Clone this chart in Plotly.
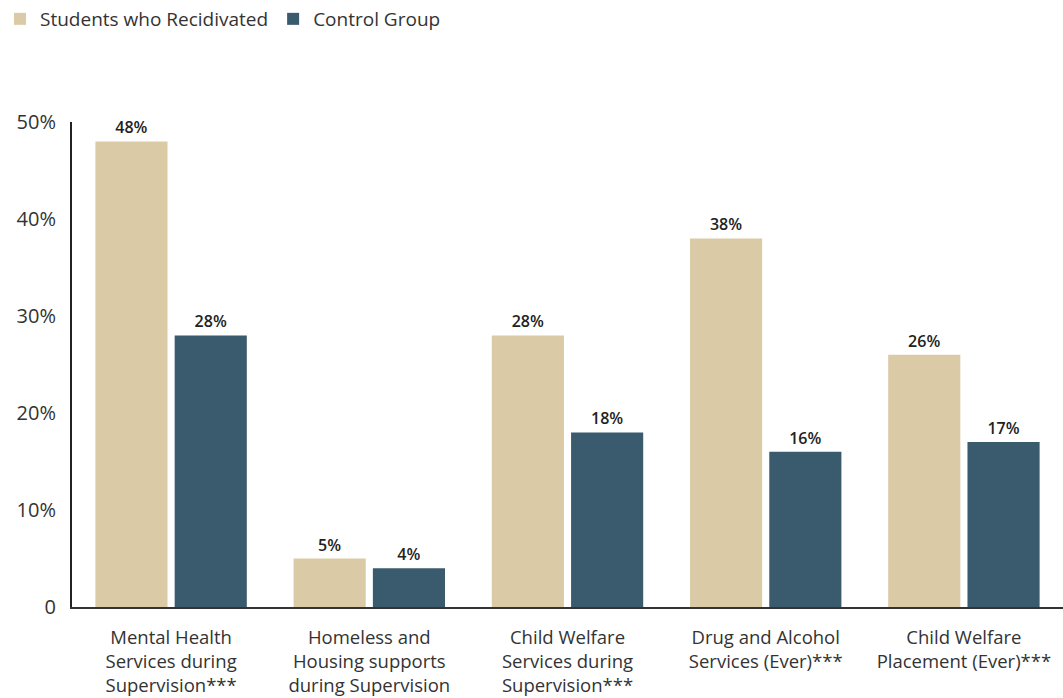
import plotly.graph_objects as go

categories = [
    "Mental Health<br>Services during<br>Supervision***",
    "Homeless and<br>Housing supports<br>during Supervision",
    "Child Welfare<br>Services during<br>Supervision***",
    "Drug and Alcohol<br>Services (Ever)***",
    "Child Welfare<br>Placement (Ever)***",
]
recidivated = [48, 5, 28, 38, 26]
control = [28, 4, 18, 16, 17]
tick_vals = [0, 10, 20, 30, 40, 50]
tick_text = ["0", "10%", "20%", "30%", "40%", "50%"]

TAN = "#DBCAA6"
BLUE = "#3A5B6E"
FONT = "'Open Sans', sans-serif"

fig = go.Figure()
for name, vals, color in [
    ("Students who Recidivated", recidivated, TAN),
    ("Control Group", control, BLUE),
]:
    fig.add_trace(go.Bar(
        name=name,
        x=categories,
        y=vals,
        marker=dict(color=color, line=dict(width=0)),
        text=[f"{v}%" for v in vals],
        textposition="outside",
        textfont=dict(family=FONT, size=16, color="#222222", weight=600),
        cliponaxis=False,
    ))

fig.update_layout(
    width=1063,
    height=698,
    margin=dict(l=72, r=0, t=122, b=91),
    paper_bgcolor="white",
    plot_bgcolor="white",
    barmode="group",
    bargap=0.2,
    bargroupgap=0.09,
    font=dict(family=FONT, size=18, color="#333333"),
    showlegend=True,
    legend=dict(
        orientation="h",
        x=0, xref="container", xanchor="left",
        y=1, yref="container", yanchor="top",
        font=dict(family=FONT, size=19, color="#333333"),
        itemsizing="constant",
        itemwidth=30,
        traceorder="normal",
    ),
    xaxis=dict(
        showline=True,
        linecolor="#333333",
        linewidth=2,
        ticks="",
        tickfont=dict(family=FONT, size=18.5, color="#333333"),
        ticklabelstandoff=13,
        automargin=False,
        showgrid=False,
        fixedrange=True,
    ),
    yaxis=dict(
        range=[0, 50],
        tickvals=tick_vals,
        ticktext=tick_text,
        showline=True,
        linecolor="#222222",
        linewidth=2,
        ticks="",
        showgrid=False,
        zeroline=False,
        tickfont=dict(family=FONT, size=20, color="#333333"),
        ticklabelstandoff=10,
        automargin=False,
        fixedrange=True,
    ),
)

fig.write_html("out.html")
